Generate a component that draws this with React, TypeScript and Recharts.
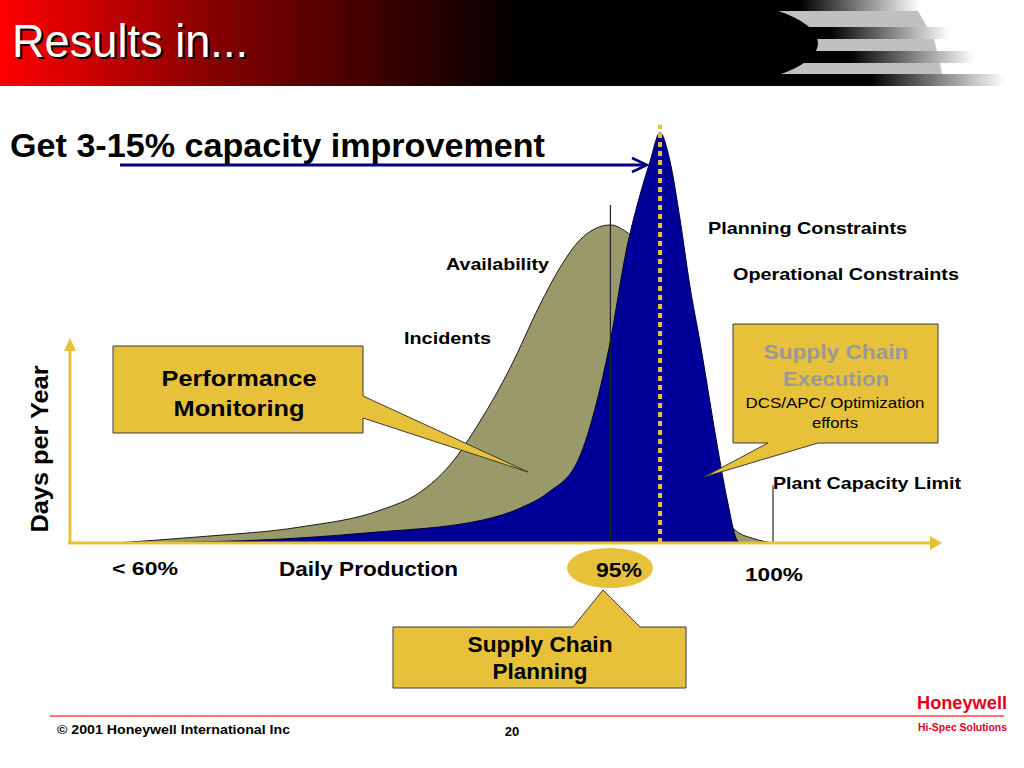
import { Area, ComposedChart, ReferenceLine, XAxis, YAxis } from "recharts";

// x = position along the (broken) daily production axis, 0..100
// y = days per year, 0..100
const availabilityPos = [5.4, 15.1, 26.6, 35.8, 40.4, 43.8, 47.2, 50.7, 54.1, 56.4, 58.7, 60.4, 62.2, 63.5, 64.7, 66.7, 69.0, 71.3, 73.6, 76.5, 78.8, 80.8];
const availabilityDays = [0, 1.4, 3.6, 7.4, 11.5, 17.6, 27.3, 39.5, 53.7, 62.1, 68.4, 70.9, 71.8, 70.9, 68.8, 57.1, 39, 23.3, 10.8, 2.9, 0.9, 0];

const executionPos = [5.4, 20, 34.4, 47.6, 52, 55, 58.5, 60.7, 62.0, 64.2, 65.6, 66.7, 67.9, 69.0, 70.2, 71.3, 72.5, 74.4, 75.6, 76.7, 77.1];
const executionDays = [0, 0.5, 2.3, 5.2, 8.0, 11.3, 18.7, 32.3, 43.6, 67.7, 78.6, 85.8, 92.6, 86.5, 72.9, 58.2, 45.1, 22.6, 9.7, 0.7, 0];

const targetPos = 62.2; // 95%
const capacityPos = 67.9;
const plantLimitPos = 80.85;

const availabilityData = availabilityPos.map((pos, i) => ({ pos, days: availabilityDays[i] }));
const executionData = executionPos.map((pos, i) => ({ pos, days: executionDays[i] }));

const GOLD = "#E8C13A";
const FONT = "'Liberation Sans', Arial, Helvetica, sans-serif";

// header bands that fade from black to white: [y, height, blackUntil, whiteAt]
const fadeBands = [
  [0, 11, 800, 920],
  [27, 12, 830, 950],
  [51, 12, 850, 975],
  [74, 12, 870, 1005],
];

function T(props: any) {
  const { children, ...rest } = props;
  return (
    <text fontFamily={FONT} fontWeight="bold" fontSize={18} fill="#000" {...rest}>
      {children}
    </text>
  );
}

export default function App() {
  return (
    <div style={{ position: "absolute", left: 0, top: 0, width: 1024, height: 768, background: "#fff", overflow: "hidden" }}>
      <ComposedChart
        width={1024}
        height={768}
        margin={{ top: 100, right: 84, left: 68, bottom: 225 }}
        style={{ position: "absolute", left: 0, top: 0 }}
      >
        <XAxis type="number" dataKey="pos" domain={[0, 100]} hide allowDataOverflow />
        <YAxis type="number" domain={[0, 100]} hide allowDataOverflow />
        <Area
          data={availabilityData}
          dataKey="days"
          type="monotone"
          fill="#99996A"
          fillOpacity={1}
          stroke="#1a1a1a"
          strokeWidth={1}
          isAnimationActive={false}
        />
        <Area
          data={executionData}
          dataKey="days"
          type="monotone"
          fill="#000099"
          fillOpacity={1}
          stroke="#000033"
          strokeWidth={1}
          isAnimationActive={false}
        />
        <ReferenceLine segment={[{ x: targetPos, y: 0 }, { x: targetPos, y: 76.3 }]} stroke="#222" strokeWidth={1.2} />
        <ReferenceLine
          segment={[{ x: capacityPos, y: 0 }, { x: capacityPos, y: 94.4 }]}
          stroke={GOLD}
          strokeWidth={4}
          strokeDasharray="5 4"
        />
        <ReferenceLine segment={[{ x: plantLimitPos, y: 0 }, { x: plantLimitPos, y: 13 }]} stroke="#000" strokeWidth={1} />
      </ComposedChart>

      <svg width={1024} height={768} style={{ position: "absolute", left: 0, top: 0, pointerEvents: "none" }}>
        <defs>
          <linearGradient id="hdr" gradientUnits="userSpaceOnUse" x1="0" x2="520" y1="0" y2="0">
            <stop offset="0" stopColor="#FF0000" />
            <stop offset="0.4" stopColor="#880000" />
            <stop offset="1" stopColor="#000" />
          </linearGradient>
          {fadeBands.map(([y, h, b, w], i) => (
            <linearGradient key={i} id={`fade${i}`} gradientUnits="userSpaceOnUse" x1={b} x2={w} y1="0" y2="0">
              <stop offset="0" stopColor="#000" />
              <stop offset="1" stopColor="#fff" />
            </linearGradient>
          ))}
          <clipPath id="hclip">
            <rect x={0} y={0} width={1024} height={86} />
          </clipPath>
        </defs>

        {/* header */}
        <g clipPath="url(#hclip)">
          <rect x={0} y={0} width={820} height={86} fill="url(#hdr)" />
          {fadeBands.map(([y, h, b, w], i) => (
            <rect key={i} x={780} y={y} width={w - 780} height={h} fill={`url(#fade${i})`} />
          ))}
          <polygon points="700,11 918,11 927,27 700,27" fill="#C0C0C0" />
          <polygon points="700,39 934,39 937,51 700,51" fill="#C0C0C0" />
          <polygon points="700,63 940,63 942,74 700,74" fill="#C0C0C0" />
          <ellipse cx={678} cy={43} rx={140} ry={46} fill="#000" />
        </g>
        <text x={14} y={59} fontFamily={FONT} fontSize={46} fill="#000" textLength={236} lengthAdjust="spacingAndGlyphs">Results in...</text>
        <text x={12} y={57} fontFamily={FONT} fontSize={46} fill="#fff" textLength={236} lengthAdjust="spacingAndGlyphs">Results in...</text>

        <T x={10} y={157} fontSize={33} textLength={535} lengthAdjust="spacingAndGlyphs">Get 3-15% capacity improvement</T>
        <line x1={120} y1={165} x2={646} y2={165} stroke="#000080" strokeWidth={3} />
        <polyline points="632,158 647,165 632,172" fill="none" stroke="#000080" strokeWidth={2.5} />

        {/* axes */}
        <line x1={68} y1={543} x2={932} y2={543} stroke={GOLD} strokeWidth={3} />
        <polygon points="930,536 942,543 930,550" fill={GOLD} />
        <line x1={70} y1={544} x2={70} y2={348} stroke={GOLD} strokeWidth={3} />
        <polygon points="64,351 70,338 76,351" fill={GOLD} />

        <T x={708} y={234} fontSize={17} textLength={199} lengthAdjust="spacingAndGlyphs">Planning Constraints</T>
        <T x={733} y={280} fontSize={17} textLength={226} lengthAdjust="spacingAndGlyphs">Operational Constraints</T>
        <T x={446} y={270} fontSize={16} textLength={103} lengthAdjust="spacingAndGlyphs">Availability</T>
        <T x={404} y={344} fontSize={16} textLength={87} lengthAdjust="spacingAndGlyphs">Incidents</T>
        <T x={773} y={489} fontSize={17} textLength={188} lengthAdjust="spacingAndGlyphs">Plant Capacity Limit</T>

        {/* Performance Monitoring callout */}
        <polygon points="113,346 363,346 363,396 528,472 363,418 363,433 113,433" fill={GOLD} stroke="#3a3a3a" strokeWidth={1} />
        <T x={239} y={386} fontSize={22} textAnchor="middle" textLength={155} lengthAdjust="spacingAndGlyphs">Performance</T>
        <T x={239} y={416} fontSize={22} textAnchor="middle" textLength={131} lengthAdjust="spacingAndGlyphs">Monitoring</T>

        {/* Supply Chain Execution callout */}
        <polygon points="733,324 938,324 938,443 818,443 704,477 768,443 733,443" fill={GOLD} stroke="#3a3a3a" strokeWidth={1} />
        <T x={836} y={359} fontSize={20} fill="#999999" textAnchor="middle" textLength={145} lengthAdjust="spacingAndGlyphs">Supply Chain</T>
        <T x={836} y={386} fontSize={20} fill="#999999" textAnchor="middle" textLength={106} lengthAdjust="spacingAndGlyphs">Execution</T>
        <T x={835} y={408} fontSize={15} fontWeight="normal" textAnchor="middle" textLength={179} lengthAdjust="spacingAndGlyphs">DCS/APC/ Optimization</T>
        <T x={835} y={428} fontSize={15} fontWeight="normal" textAnchor="middle" textLength={46} lengthAdjust="spacingAndGlyphs">efforts</T>

        {/* x labels */}
        <T x={112} y={575} fontSize={19} textLength={66} lengthAdjust="spacingAndGlyphs">&lt; 60%</T>
        <T x={279} y={576} fontSize={20} textLength={179} lengthAdjust="spacingAndGlyphs">Daily Production</T>
        <ellipse cx={610} cy={568} rx={43} ry={20} fill={GOLD} />
        <T x={619} y={577} fontSize={20} textAnchor="middle" textLength={46} lengthAdjust="spacingAndGlyphs">95%</T>
        <T x={745} y={581} fontSize={19} textLength={58} lengthAdjust="spacingAndGlyphs">100%</T>

        {/* y label */}
        <T x={0} y={0} fontSize={24} textAnchor="middle" textLength={167} lengthAdjust="spacingAndGlyphs" transform="translate(48,449) rotate(-90)">Days per Year</T>

        {/* Supply Chain Planning callout */}
        <polygon points="393,627 573,627 603,590 640,627 686,627 686,688 393,688" fill={GOLD} stroke="#3a3a3a" strokeWidth={1} />
        <T x={540} y={652} fontSize={22} textAnchor="middle" textLength={145} lengthAdjust="spacingAndGlyphs">Supply Chain</T>
        <T x={540} y={679} fontSize={22} textAnchor="middle" textLength={95} lengthAdjust="spacingAndGlyphs">Planning</T>

        {/* footer */}
        <line x1={50} y1={716} x2={1004} y2={716} stroke="#FF4040" strokeWidth={1.5} />
        <T x={57} y={734} fontSize={13} textLength={233} lengthAdjust="spacingAndGlyphs">© 2001 Honeywell International Inc</T>
        <T x={512} y={736} fontSize={13} textAnchor="middle">20</T>
        <T x={1007} y={709} fontSize={19} fill="#E4001B" textAnchor="end" textLength={90} lengthAdjust="spacingAndGlyphs">Honeywell</T>
        <T x={1007} y={731} fontSize={10.5} fill="#E4001B" textAnchor="end" textLength={89} lengthAdjust="spacingAndGlyphs">Hi-Spec Solutions</T>
      </svg>
    </div>
  );
}
